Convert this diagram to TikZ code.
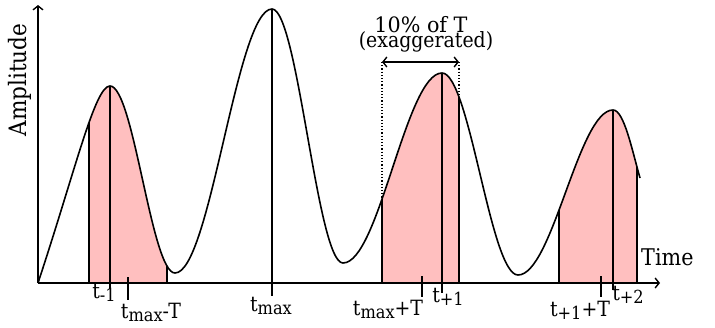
\documentclass[tikz,border=0pt]{standalone}
\usepackage{fontspec}
\setmainfont{DejaVu Serif}[FakeStretch=0.9]
\usetikzlibrary{arrows.meta}
\definecolor{pinkfill}{RGB}{255,191,191}
\newcommand\lsub[1]{\raisebox{-3.5pt}{\fontsize{18}{18}\selectfont #1}}
\def\curvepath{.. controls (76,168) and (95,86) .. (110,86)
 .. controls (133.6,86) and (151.4,273) .. (175,273)
 .. controls (210.25,273) and (236.75,9) .. (272,9)
 .. controls (297.8,9) and (317.2,263) .. (343,263)
 .. controls (379,263) and (406,73) .. (442,73)
 .. controls (469.6,73) and (490.4,275) .. (518,275)
 .. controls (552.5,275) and (578.5,110) .. (613,110)
 .. controls (624,110) and (632,150) .. (640,178)}
\begin{document}
\begin{tikzpicture}[x=1pt,y=-1pt,
  curve/.style={line width=1.6pt,line join=round},
  edge/.style={line width=1.4pt},
  tick/.style={line width=1.4pt},
  lab/.style={anchor=base,inner sep=0pt,font=\fontsize{21}{24}\selectfont},
  barb/.style={line width=1.4pt,-{Straight Barb[length=4pt,width=10pt]}}]
\useasboundingbox (0,0) rectangle (715,327);
% dotted guides
\draw[line width=1.2pt,dotted] (382,62) -- (382,283);
\draw[line width=1.2pt,dotted] (459,62) -- (459,283);
% shaded regions
\begin{scope}
  \clip (89,0) rectangle (167,283) (382,0) rectangle (459,283) (559,0) rectangle (637,283);
  \fill[pinkfill] (38,283) \curvepath -- (640,283) -- cycle;
\end{scope}
% region edges
\begin{scope}
  \clip (38,283) \curvepath -- (640,283) -- cycle;
  \foreach \xx in {89,167,382,459,559,637} \draw[edge] (\xx,0) -- (\xx,283);
\end{scope}
% peak lines
\coordinate (pk1) at (110,86);
\coordinate (pk2) at (272,9);
\coordinate (pk3) at (442,73);
\coordinate (pk4) at (613,110);
\draw[edge] (pk1) -- (110,289);
\draw[edge] (pk2) -- (272,296);
\draw[edge] (pk3) -- (442,293);
\draw[edge] (pk4) -- (613,290);
% ticks
\draw[tick] (128,277) -- (128,300);
\draw[tick] (422,276) -- (422,297);
\draw[tick] (601,276) -- (601,297);
% axes
\coordinate (o) at (38,283);
\coordinate (ytop) at (38,5);
\coordinate (xend) at (660,283);
\draw[barb] (o) -- (ytop);
\draw[barb] (o) -- (xend);
% curve
\draw[curve] (38,283) \curvepath;
% 10% arrow
\coordinate (al) at (382,62);
\coordinate (ar) at (459,62);
\draw[line width=1.4pt,{Straight Barb[length=4pt,width=10pt]}-{Straight Barb[length=4pt,width=10pt]}] (al) -- (ar);
% labels
\node[lab,rotate=90,anchor=center,font=\fontsize{24}{26}\selectfont] (amp) at (20,80) {Amplitude};
\node[lab,anchor=base west,font=\fontsize{23}{26}\selectfont] (time) at (641,265) {Time};
\node[lab,font=\fontsize{23}{26}\selectfont] (ten) at (421,32) {\scalebox{1}[0.92]{10\% of T}};
\node[lab,font=\fontsize{21}{24}\selectfont] (exa) at (426,47) {(exaggerated)};
\node[lab] (tm1) at (104,298) {t\lsub{-1}};
\node[lab] (tmT) at (151,318) {t\lsub{max}-T};
\node[lab] (tmx) at (271,311) {t\lsub{max}};
\node[lab] (tpT) at (388,315) {t\lsub{max}+T};
\node[lab] (tp1) at (448,302) {t\lsub{+1}};
\node[lab] (t1T) at (580,316) {t\lsub{+1}+T};
\node[lab] (tp2) at (628,300) {t\lsub{+2}};
\end{tikzpicture}
\end{document}
